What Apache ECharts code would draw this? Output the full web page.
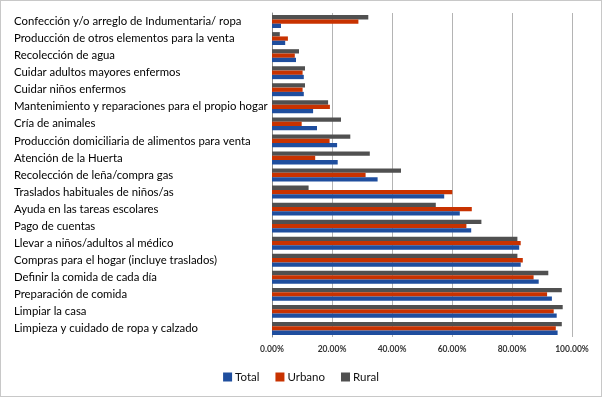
<!DOCTYPE html>
<html><head><meta charset="utf-8">
<script src="https://cdn.jsdelivr.net/npm/echarts@6/dist/echarts.min.js"></script>
<style>html,body{margin:0;padding:0;background:#fff}#c{width:600px;height:395px;border:1px solid #c8c8c8;}</style>
</head><body><div id="c"></div>
<script>
const categories = ["Confección y/o arreglo de Indumentaria/ ropa","Producción de otros elementos para la venta","Recolección de agua","Cuidar adultos mayores enfermos","Cuidar niños enfermos","Mantenimiento y reparaciones para el propio hogar","Cría de animales","Producción domiciliaria de alimentos para venta","Atención de la Huerta","Recolección de leña/compra gas","Traslados habituales de niños/as","Ayuda en las tareas escolares","Pago de cuentas","Llevar a niños/adultos al médico","Compras para el hogar (incluye traslados)","Definir la comida de cada día","Preparación de comida","Limpiar la casa","Limpieza y cuidado de ropa y calzado"];
const total  = [0.030,0.044,0.080,0.106,0.106,0.137,0.150,0.217,0.219,0.352,0.574,0.626,0.664,0.824,0.829,0.889,0.933,0.949,0.952];
const urbano = [0.288,0.053,0.076,0.102,0.102,0.193,0.099,0.192,0.144,0.312,0.601,0.666,0.648,0.829,0.836,0.872,0.917,0.939,0.946];
const rural  = [0.321,0.026,0.090,0.110,0.110,0.187,0.230,0.261,0.326,0.430,0.122,0.546,0.698,0.818,0.818,0.921,0.966,0.969,0.966];
const xTicks = [0,0.2,0.4,0.6,0.8,1.0];
const chart = echarts.init(document.getElementById('c'));
const ff = 'Lato';
chart.setOption({
  animation:false,
  textStyle:{fontFamily:ff},
  grid:{left:271,right:29,top:12,bottom:59},
  legend:{data:['Total','Urbano','Rural'],bottom:8,left:'center',itemWidth:9,itemHeight:9,itemGap:16,icon:'rect',
    textStyle:{fontFamily:ff,fontSize:11.5,color:'#111',padding:[0,0,0,-2]}},
  xAxis:{type:'value',min:xTicks[0],max:xTicks[xTicks.length-1],interval:0.2,
    axisLine:{show:false},axisTick:{show:false},
    splitLine:{lineStyle:{color:'#b4b4b4',width:1}},
    axisLabel:{fontFamily:ff,fontSize:8.5,fontWeight:'bold',color:'#333',margin:8,formatter:v=>(v*100).toFixed(2)+'%'}},
  yAxis:{type:'category',data:categories,inverse:true,
    axisLine:{lineStyle:{color:'#888'}},axisTick:{show:false},
    axisLabel:{align:'left',margin:258,fontFamily:ff,fontSize:11.35,color:'#000'}},
  series:[
    {name:'Rural',type:'bar',data:rural,barWidth:4.3,barGap:'0%',itemStyle:{color:'#505050'}},
    {name:'Urbano',type:'bar',data:urbano,barWidth:4.3,barGap:'0%',itemStyle:{color:'#c83200'}},
    {name:'Total',type:'bar',data:total,barWidth:4.3,barGap:'0%',itemStyle:{color:'#1f4e9e'}}
  ]
});
</script></body></html>
